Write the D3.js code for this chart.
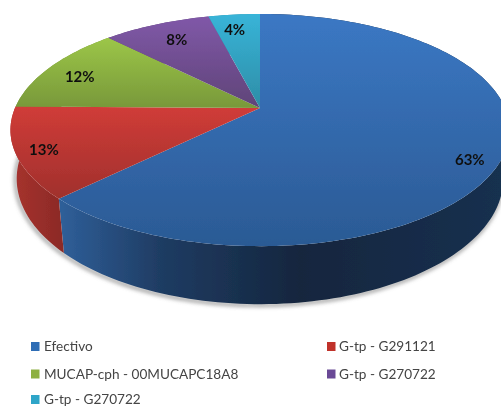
<!DOCTYPE html>
<html>
<head>
<meta charset="utf-8">
<script src="https://cdn.jsdelivr.net/npm/d3@7"></script>
<style>
    html, body { margin: 0; padding: 0; background: #fff; }
    svg { display: block; }
</style>
</head>
<body>
<svg width="501" height="407"></svg>
<script>
    var categories = ['Efectivo', 'G-tp - G291121', 'MUCAP-cph - 00MUCAPC18A8', 'G-tp - G270722', 'G-tp - G270722'];
    var shares = [0.626, 0.126, 0.124, 0.084, 0.040];

    var legendColors = ['#2f6db5', '#c0302c', '#8db040', '#6a4a96', '#2fa5c8'];
    var topLight = ['#3b78c4', '#d03c38', '#9cc648', '#8058a8', '#38b4d8'];
    var topDark = ['#2b5a94', '#a0302c', '#78983a', '#5f4478', '#2d8da6'];
    var sideStops = [
        [[60, '#2f5f99'], [160, '#1f3c63'], [300, '#14263e'], [501, '#17304f']],
        [[11, '#a8322e'], [65, '#8a2a26']],
        [[0, '#78983a'], [1, '#78983a']],
        [[0, '#5f4478'], [1, '#5f4478']],
        [[0, '#2d8da6'], [1, '#2d8da6']]
    ];

    // radial fraction and pixel nudge of each percent label
    var labelPlace = [[0.9, -8, 10], [0.86, -8, 3], [0.8, -10, 2], [0.8, 2, 1], [0.8, -4, -1]];

    var svg = d3.select('svg');
    var defs = svg.append('defs');

    var cx = 260, cy = 108;
    var rx = 245, ry = 111.9;
    var tilt = 0.19;
    var depth = 47;
    var rimShrink = 0.975;

    // perspective view of the pie disc, angle clockwise from the top
    function project(a, f, drop) {
        var u = f * Math.sin(a);
        var v = -f * Math.cos(a);
        var w = 1 - tilt * v;
        var k = drop ? rimShrink : 1;
        return [cx + k * rx * u / w, cy + ry * v / w + (drop || 0) / w];
    }

    function arcPoints(a0, a1, drop) {
        var n = Math.max(2, Math.ceil((a1 - a0) * 40));
        return d3.range(n + 1).map(function (i) {
            return project(a0 + (a1 - a0) * i / n, 1, drop);
        });
    }

    var line = d3.line();

    var pie = d3.pie().sort(null).value(function (d) { return d; });
    var slices = pie(shares);

    slices.forEach(function (d, i) {
        var ys = d3.extent(arcPoints(d.startAngle, d.endAngle, 0).concat([[cx, cy]]), function (p) { return p[1]; });
        var top = defs.append('linearGradient')
            .attr('id', 'top' + i)
            .attr('gradientUnits', 'userSpaceOnUse')
            .attr('x1', 0).attr('x2', 0)
            .attr('y1', ys[0]).attr('y2', ys[1]);
        top.append('stop').attr('offset', 0).attr('stop-color', topLight[i]);
        top.append('stop').attr('offset', 1).attr('stop-color', topDark[i]);

        var stops = sideStops[i];
        var x0 = stops[0][0], x1 = stops[stops.length - 1][0];
        var side = defs.append('linearGradient')
            .attr('id', 'side' + i)
            .attr('gradientUnits', 'userSpaceOnUse')
            .attr('x1', x0).attr('x2', x1)
            .attr('y1', 0).attr('y2', 0);
        stops.forEach(function (s) {
            side.append('stop').attr('offset', (s[0] - x0) / (x1 - x0)).attr('stop-color', s[1]);
        });
    });

    defs.append('filter').attr('id', 'soft')
        .attr('x', '-5%').attr('y', '-5%').attr('width', '110%').attr('height', '110%')
        .append('feGaussianBlur').attr('stdDeviation', 0.45);
    defs.append('filter').attr('id', 'shadow')
        .attr('x', '-10%').attr('y', '-10%').attr('width', '120%').attr('height', '120%')
        .append('feGaussianBlur').attr('stdDeviation', 2);

    var g = svg.append('g').attr('filter', 'url(#soft)');

    // soft shadow under the lower rim
    g.append('path')
        .attr('d', line(arcPoints(Math.PI * 0.3, Math.PI * 1.5, depth)))
        .attr('transform', 'translate(-1,1)')
        .attr('fill', 'none')
        .attr('stroke', '#777')
        .attr('stroke-width', 2.5)
        .attr('filter', 'url(#shadow)');

    g.selectAll('path.side')
        .data(slices)
        .enter().append('path')
        .attr('class', 'side')
        .attr('d', function (d) {
            var upper = arcPoints(d.startAngle, d.endAngle, 0);
            var lower = arcPoints(d.startAngle, d.endAngle, depth).reverse();
            return line(upper.concat(lower)) + 'Z';
        })
        .attr('fill', function (d, i) { return 'url(#side' + i + ')'; });

    g.selectAll('path.top')
        .data(slices)
        .enter().append('path')
        .attr('class', 'top')
        .attr('d', function (d) {
            return line([[cx, cy]].concat(arcPoints(d.startAngle, d.endAngle, 0))) + 'Z';
        })
        .attr('fill', function (d, i) { return 'url(#top' + i + ')'; });

    var percent = d3.format('.0%');

    g.selectAll('text.pct')
        .data(slices)
        .enter().append('text')
        .attr('class', 'pct')
        .attr('transform', function (d, i) {
            var p = project((d.startAngle + d.endAngle) / 2, labelPlace[i][0], 0);
            return 'translate(' + (p[0] + labelPlace[i][1]) + ',' + (p[1] + labelPlace[i][2]) + ')';
        })
        .attr('text-anchor', 'middle')
        .attr('dy', '0.35em')
        .style('font', 'bold 15px Lato')
        .attr('fill', '#111')
        .text(function (d) { return percent(d.data); });

    var legendX = [31, 327];
    var legendY = [346.5, 374, 399.5];

    var legend = g.selectAll('g.legend')
        .data(categories)
        .enter().append('g')
        .attr('class', 'legend')
        .attr('transform', function (d, i) {
            return 'translate(' + legendX[i % 2] + ',' + legendY[Math.floor(i / 2)] + ')';
        });

    legend.append('rect')
        .attr('x', 0).attr('y', -4.5)
        .attr('width', 8.5).attr('height', 9)
        .attr('fill', function (d, i) { return legendColors[i]; });

    legend.append('text')
        .attr('x', function (d, i) { return i % 2 ? 12 : 13; })
        .attr('dy', '0.36em')
        .style('font', '13.6px Lato')
        .attr('fill', '#444')
        .text(function (d) { return d; });
</script>
</body>
</html>
